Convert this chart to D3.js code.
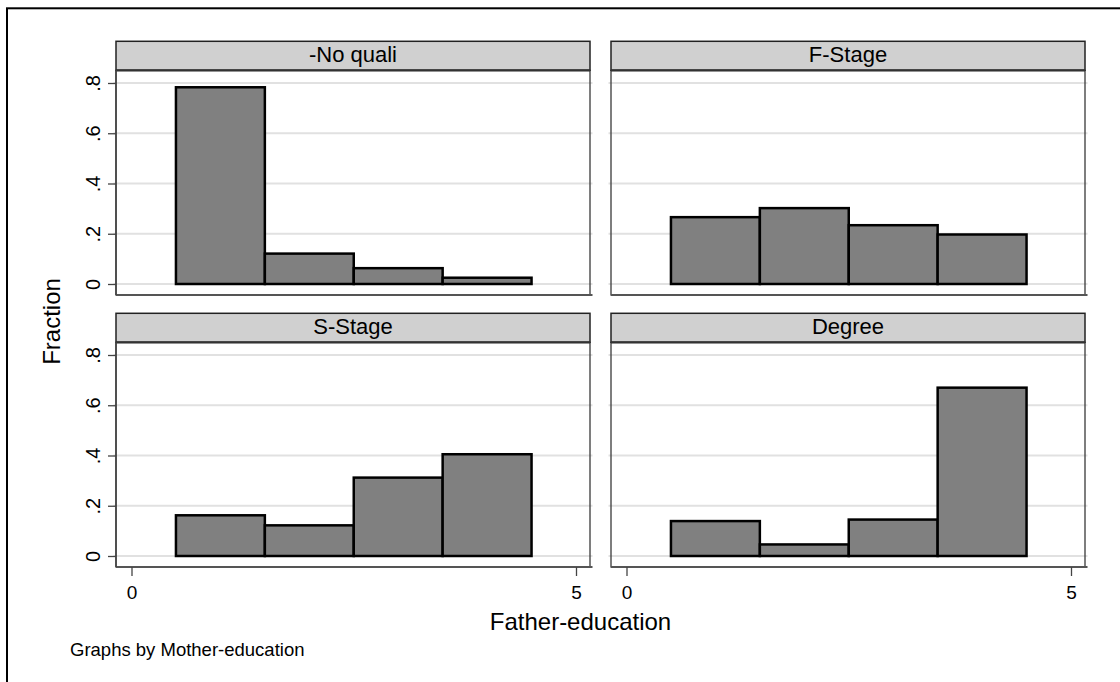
<!DOCTYPE html>
<html>
<head>
<meta charset="utf-8">
<script src="https://cdn.jsdelivr.net/npm/d3@7"></script>
<style>
  html, body { margin: 0; padding: 0; background: #ffffff; }
  svg { display: block; font-family: "Liberation Sans", Arial, Helvetica, sans-serif; }
</style>
</head>
<body>
<svg id="chart" width="1120" height="682"></svg>
<script>
// Father's education level (histogram bins, width 1, centred on each level)
const fatherEducation = [1, 2, 3, 4];

// Mother's education groups, one panel each
const panelNames = ["-No quali", "F-Stage", "S-Stage", "Degree"];

// Fraction of observations in each father-education bin, per mother group
const noQuali = [0.783, 0.121, 0.063, 0.025];
const fStage  = [0.266, 0.302, 0.234, 0.197];
const sStage  = [0.162, 0.122, 0.312, 0.405];
const degree  = [0.139, 0.046, 0.145, 0.670];

const panelValues = [noQuali, fStage, sStage, degree];

// Axis ticks
const xTicks = [0, 5];
const yTicks = [0, 0.2, 0.4, 0.6, 0.8];
const yTickLabels = ["0", ".2", ".4", ".6", ".8"];

const svg = d3.select("#chart");

// Outer frame (only top and left edges fall inside the canvas)
svg.append("rect")
  .attr("x", 7).attr("y", 8.3)
  .attr("width", 1200).attr("height", 800)
  .attr("fill", "none").attr("stroke", "#000").attr("stroke-width", 2);

// Panel geometry
const cols = [{ left: 116, right: 590 }, { left: 611, right: 1085 }];
const rows = [{ headTop: 41.3, bottom: 295 }, { headTop: 313.3, bottom: 567 }];
const headH = 29;

const fontMain = 22;

panelNames.forEach((name, i) => {
  const c = cols[i % 2];
  const r = rows[Math.floor(i / 2)];
  const plotTop = r.headTop + headH;
  const g = svg.append("g");

  const x = d3.scaleLinear().domain([0, 5]).range([c.left + 15.5, c.left + 460]);
  const y = d3.scaleLinear().domain([0, 0.8]).range([r.bottom - 11, r.bottom - 212]);

  // Grid lines
  g.selectAll("line.grid").data(yTicks).join("line")
    .attr("class", "grid")
    .attr("x1", c.left - 2.5).attr("x2", c.right + 2.5)
    .attr("y1", d => y(d)).attr("y2", d => y(d))
    .attr("stroke", "#e1e1e1").attr("stroke-width", 2);

  // Bars
  const vals = panelValues[i];
  g.selectAll("rect.bar").data(fatherEducation).join("rect")
    .attr("class", "bar")
    .attr("x", d => x(d - 0.5))
    .attr("width", d => x(d + 0.5) - x(d - 0.5))
    .attr("y", (d, k) => y(vals[k]))
    .attr("height", (d, k) => y(0) - y(vals[k]))
    .attr("fill", "#808080")
    .attr("stroke", "#000").attr("stroke-width", 2.5);

  // Plot region border
  g.append("rect")
    .attr("x", c.left).attr("y", plotTop)
    .attr("width", c.right - c.left).attr("height", r.bottom - plotTop)
    .attr("fill", "none").attr("stroke", "#3a3a3a").attr("stroke-width", 1.3);

  // Header strip
  g.append("rect")
    .attr("x", c.left).attr("y", r.headTop)
    .attr("width", c.right - c.left).attr("height", headH)
    .attr("fill", "#d0d0d0").attr("stroke", "#222").attr("stroke-width", 1.5);
  g.append("line")
    .attr("x1", c.left).attr("x2", c.right)
    .attr("y1", plotTop).attr("y2", plotTop)
    .attr("stroke", "#333").attr("stroke-width", 2.2);
  g.append("text")
    .attr("x", (c.left + c.right) / 2)
    .attr("y", r.headTop + 21)
    .attr("text-anchor", "middle")
    .attr("font-size", fontMain)
    .attr("fill", "#000")
    .text(name);

  // Bottom axis line
  g.append("line")
    .attr("x1", c.left).attr("x2", c.right + 2.5)
    .attr("y1", r.bottom).attr("y2", r.bottom)
    .attr("stroke", "#555").attr("stroke-width", 2);

  // Y axis on left column
  if (i % 2 === 0) {
    const ax = g.append("g")
      .attr("transform", `translate(${c.left},0)`)
      .call(d3.axisLeft(y).tickValues(yTicks).tickSize(8)
        .tickFormat((d, k) => yTickLabels[k]));
    ax.select(".domain").remove();
    ax.append("line")
      .attr("x1", 0).attr("x2", 0)
      .attr("y1", plotTop).attr("y2", r.bottom)
      .attr("stroke", "#444").attr("stroke-width", 1.6);
    ax.selectAll(".tick line").attr("stroke", "#444").attr("stroke-width", 1.3);
    ax.selectAll(".tick text")
      .attr("x", null).attr("dy", null)
      .attr("text-anchor", "middle")
      .attr("transform", "translate(-16,0) rotate(-90)")
      .attr("font-size", 20)
      .attr("font-family", null)
      .attr("fill", "#000");
  }

  // X axis on bottom row
  if (i >= 2) {
    const ax = g.append("g")
      .attr("transform", `translate(0,${r.bottom})`)
      .call(d3.axisBottom(x).tickValues(xTicks).tickSize(9).tickPadding(10)
        .tickFormat(d3.format("d")));
    ax.select(".domain").remove();
    ax.selectAll(".tick line").attr("stroke", "#444").attr("stroke-width", 1.3);
    ax.selectAll(".tick text")
      .attr("font-size", 19)
      .attr("font-family", null)
      .attr("fill", "#000");
  }
});

// Axis titles
svg.append("text")
  .attr("transform", "translate(60,321.5) rotate(-90)")
  .attr("text-anchor", "middle")
  .attr("font-size", 24)
  .attr("fill", "#000")
  .text("Fraction");

svg.append("text")
  .attr("x", 580.5).attr("y", 630)
  .attr("text-anchor", "middle")
  .attr("font-size", 24)
  .attr("fill", "#000")
  .text("Father-education");

// Note
svg.append("text")
  .attr("x", 70).attr("y", 655.5)
  .attr("font-size", 18.5)
  .attr("fill", "#000")
  .text("Graphs by Mother-education");
</script>
</body>
</html>
